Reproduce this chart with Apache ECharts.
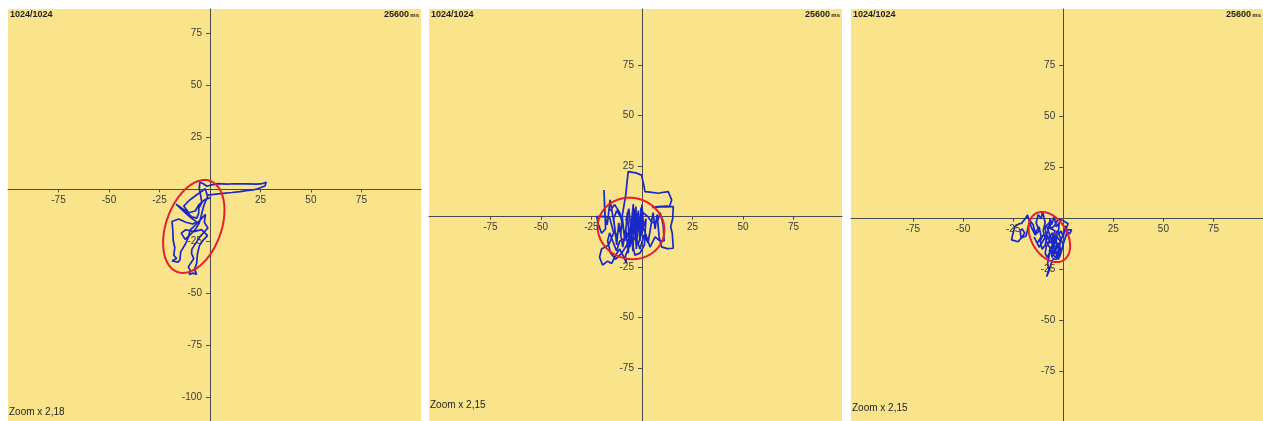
<!DOCTYPE html>
<html>
<head>
<meta charset="utf-8">
<title>Stabilogram</title>
<script src="https://cdn.jsdelivr.net/npm/echarts@6/dist/echarts.min.js"></script>
<style>
  html, body { margin: 0; padding: 0; background: #ffffff; }
  #chart { width: 1263px; height: 421px; }
</style>
</head>
<body>
<div id="chart"></div>
<script>
// ---- data -------------------------------------------------------------
// centre-of-pressure traces, [x, y] in mm
const trace1 = [
  [-1.5,-2.8],[2,-2.4],[6.6,-1.9],[11,-1.5],[14.9,-1.1],[18,-0.6],[21.4,-0.3],[24,0.4],[27.2,1.6],[27.9,3.4],
  [26,2.8],[23.1,2.5],[18,2.6],[12,2.7],[8.3,2.5],[4,2.8],[1,2.2],[-1.5,1.5],[-3.5,2.8],[-5,3.4],
  [-5.3,0.5],[-4.5,-3.6],[-4,-6.5],[-5.5,-9],[-5.6,-11.5],[-6.5,-13.8],[-9,-13.2],[-12.5,-10],[-16.8,-7.1],[-13,-10.5],
  [-9.5,-13.5],[-6.6,-15.6],[-8.5,-16.6],[-12,-15.8],[-15.5,-14.2],[-18.8,-15.4],[-18.4,-19.5],[-18.2,-24.4],[-17.4,-28],[-17.9,-31.6],
  [-16.5,-33.2],[-18.7,-34.3],[-16,-35],[-14.9,-34],[-14.5,-30],[-12,-26],[-10.5,-22.5],[-9.9,-19.6],[-7.5,-17.4],[-4.8,-14.6],
  [-2.2,-12],[-2.8,-15.8],[-1,-18.5],[-0.3,-18.8],[-2.6,-20.2],[-5,-22.8],[-7,-25.8],[-9,-28.8],[-9.1,-30.8],[-8,-33.2],
  [-10.7,-37.2],[-9.6,-39.3],[-10.3,-40.8],[-8.2,-40.2],[-6.6,-40.8],[-7.6,-38.3],[-6.6,-35.6],[-6.2,-31],[-5.2,-27],[-3.2,-24.2],
  [-1.2,-22.2],[-4.2,-19.3],[-8,-20.3],[-12,-19.4],[-14.2,-21],[-12.3,-24],[-10,-22],[-7.2,-19.2],[-5.3,-16.2],[-4.2,-12.2],
  [-3.1,-8],[-1.2,-3.4],[-2.3,0.3],[-6,-2.2],[-10,-5.1],[-13,-8],[-10.5,-11.2],[-7.3,-10.4],[-5.6,-7.5],[-2.6,-5],[0.2,-4]
];
const trace2 = [
  [-8,-2],[-6.5,4],[-5.5,-6],[-4.3,6.3],[-3.8,-8],[-3,5],[-2.5,-12],[-1.8,3],[-1.2,-10],[-0.5,4.5],
  [0.2,-7],[-2,-14],[-4,-3],[-6,-15],[-7.2,2],[-8.5,-12],[-9.8,0.5],[-10.5,-9],[-11.5,-3],[-12.5,-14],
  [-13.5,-5],[-15.8,8.3],[-16.5,2],[-17.2,-4],[-18.3,0],[-18.8,13.2],[-18.4,12.5],[-18.3,2],[-18,-6],[-20,-8.2],
  [-21.5,-4],[-22.4,0],[-19.5,0.2],[-16,-0.5],[-14,-8],[-16.5,-14],[-20,-16],[-21,-20],[-19.5,-23.9],[-17,-22],
  [-15,-23.1],[-13,-19],[-11,-16],[-9,-20],[-7.6,-23.1],[-8.2,-19.5],[-6,-14],[-3,-10],[-1,-16],[1,-9],
  [3,-13],[4.5,-4],[5.5,2],[6.5,-6],[7.5,1],[8.5,-10],[9.7,-14.9],[12.5,-15.8],[15.5,-15.6],[15.2,-11],
  [15,-8.2],[14.2,-5],[15.2,-1],[15.5,5],[12,5.2],[8,5],[5,4.6],[9,4.8],[13.5,4.8],[14.7,8.3],
  [13,12.4],[10,12],[8.1,11.6],[4,12.2],[1.5,12.4],[0.8,16],[-0.2,20.6],[-3,21.7],[-6.8,22.3],[-7.4,17],
  [-8,11],[-9,5],[-10,-1],[-12.5,3],[-14,-1],[-13,-10],[-11,-6],[-9.5,-15],[-8,-6],[-6.8,-18],
  [-5.5,-3],[-4.5,-17],[-3.6,0],[-2.8,-16],[-2,2],[-1,-12],[0,6],[0.8,-5],[2,-1],[1.2,-14],
  [-1,-18],[-3.5,-19],[-5,-12],[-7,-8],[-9,-11],[-11,-12],[-12.6,-17],[-14.5,-12],[-16,-8],[-17,-12],
  [-15.5,-18],[-13,-21],[-10,-18],[-7.5,-14],[-5.5,-8],[-4,4],[-3,-5],[-1.5,-2],[0.5,2],[3,0],
  [5,-3],[7.8,-2],[9,2],[10.5,-4],[11,-12],[9,-12],[6.5,-10],[4,-15],[2,-9],[0,-4],
  [-2.5,-7],[-5,-5],[-7,-10],[-9,-7],[-11,2],[-13.5,6],[-15.8,3]
];
const trace3 = [
  [-6,-10],[-4,-6],[-8,-4],[-5,-14],[-3,-8],[-7,-16],[-2,-12],[-6,-18],[-1,-15],[-4,-19],
  [-8,-12],[-10,-6],[-9,-2],[-10.3,3.4],[-11,0],[-12.5,2],[-13.5,-2],[-12,-6],[-14,-8],[-16,-4],
  [-17.8,1.8],[-19,0],[-20.8,-2.3],[-22,-2.5],[-24.2,-3.9],[-25,-7],[-25.8,-10.4],[-25.5,-11.2],[-22.5,-11.3],[-20.5,-9],
  [-19.2,-7],[-20.5,-5],[-21.5,-6],[-21,-9.5],[-18.5,-8.5],[-17.5,-4],[-16.5,-1],[-15,-3],[-14,-7],[-12,-4],
  [-11,-9],[-13,-12],[-14.5,-9],[-12,-14],[-9.5,-10],[-7.5,-6],[-6.5,0],[-5.8,-3],[-4.5,1],[-3.5,-4],
  [-2,-2],[-2.5,-8],[-1,-6],[0,-9],[1,-3.5],[2,-5.5],[4.2,-5.5],[3.2,-7.5],[2,-6.5],[0.5,-11],
  [-1,-16],[-2,-13],[-3,-18],[-4.5,-15],[-5.5,-19],[-6.5,-14],[-7,-18],[-7.8,-22],[-7.2,-25],[-8.3,-28.4],
  [-7.2,-26],[-6,-22],[-5,-19.5],[-3.5,-20],[-2,-17],[-1.5,-11],[-3,-9],[-4,-12],[-5,-9],[-6.5,-12],
  [-8,-8],[-9,-13],[-10.5,-15],[-11.5,-11],[-10,-8],[-7.5,-10],[-5.5,-7],[-4,-10],[-3,-14],[-4.5,-17],
  [-6,-15],[-5,-11],[-3,-6],[-1.5,-9],[0,-13],[-1.5,-18],[-2.5,-20],[-4,-16],[-5.5,-12],[-7,-11],
  [-8.5,-14],[-9,-17],[-8,-19],[-6.5,-16],[-5.2,-13],[-3.5,-11],[-2.5,-14],[-1,-10],[0.5,-7],[2.5,-2.5],
  [0,-1],[-2.5,0],[-4,-3],[-6,-5],[-7,-2],[-9,-4],[-8.5,-8]
];
// confidence ellipses: [centre x, centre y, semi-major, semi-minor, tilt in degrees]
const ellipse1 = [-8.0, -17.8, 23.3, 13.6, 69];
const ellipse2 = [-5.4, -5.8, 16.6, 15.1, -15];
const ellipse3 = [-6.9, -9.0, 13.4, 8.9, -58];

// tick labels
const xTicks = [-75, -50, -25, 25, 50, 75];
const yTicks1 = [75, 50, 25, -25, -50, -75, -100];
const yTicks23 = [75, 50, 25, -25, -50, -75];

// header / footer texts
const frameText = '1024/1024';
const durationText = '25600';
const durationUnit = 'ms';
const zoomTexts = ['Zoom x 2,18', 'Zoom x 2,15', 'Zoom x 2,15'];

// ---- layout -------------------------------------------------------------
const panels = [
  { left: 8,   width: 413, xMin: -100,  xMax: 104.5, yMin: -111.2, yMax: 86.6,  yTicks: yTicks1,  trace: trace1, ellipse: ellipse1, zoomY: 413 },
  { left: 429, width: 413, xMin: -105.4, xMax: 99.0, yMin: -101.1, yMax: 102.8, yTicks: yTicks23, trace: trace2, ellipse: ellipse2, zoomY: 406 },
  { left: 851, width: 412, xMin: -105.9, xMax: 99.7, yMin: -99.2,  yMax: 102.8, yTicks: yTicks23, trace: trace3, ellipse: ellipse3, zoomY: 409 }
];
const TOP = 9, HEIGHT = 412;
const FONT = "'Liberation Sans Narrow', 'Liberation Sans', Arial, sans-serif";
const BG = '#F9E38B';
const AXIS = '#4a4a4a';
const LABEL = '#3a3a3a';

const grids = [], xAxes = [], yAxes = [], series = [], graphics = [];

// tick labels sit next to the axis lines that cross at the origin
function tickLabelSeries(i, values, horizontal) {
  return {
    type: 'custom', xAxisIndex: i, yAxisIndex: i,
    data: values.map(v => [v]), animation: false, silent: true, z: 5,
    renderItem: function (params, api) {
      const v = api.value(0);
      const pt = horizontal ? api.coord([v, 0]) : api.coord([0, v]);
      return {
        type: 'text',
        style: horizontal
          ? { text: String(v), x: pt[0], y: pt[1] + 6, align: 'center', verticalAlign: 'top',
              font: '10px ' + FONT, fill: LABEL }
          : { text: String(v), x: pt[0] - 8, y: pt[1], align: 'right', verticalAlign: 'middle',
              font: '10px ' + FONT, fill: LABEL }
      };
    }
  };
}

panels.forEach((p, i) => {
  grids.push({ left: p.left, top: TOP, width: p.width, height: HEIGHT,
               show: true, backgroundColor: BG, borderWidth: 0,
               containLabel: false, outerBoundsMode: 'none' });
  xAxes.push({
    type: 'value', gridIndex: i, min: p.xMin, max: p.xMax,
    axisLine: { onZero: true, lineStyle: { color: AXIS, width: 1 } },
    axisTick: { show: true, length: 3, inside: false, customValues: xTicks, lineStyle: { color: AXIS } },
    axisLabel: { show: false },
    splitLine: { show: false }
  });
  yAxes.push({
    type: 'value', gridIndex: i, min: p.yMin, max: p.yMax,
    axisLine: { onZero: true, lineStyle: { color: AXIS, width: 1 } },
    axisTick: { show: true, length: 4, inside: false, customValues: p.yTicks, lineStyle: { color: AXIS } },
    axisLabel: { show: false },
    splitLine: { show: false }
  });
  series.push({
    type: 'line', xAxisIndex: i, yAxisIndex: i, data: p.trace,
    showSymbol: false, smooth: false, animation: false, silent: true,
    lineStyle: { color: '#1a28c8', width: 1.7 }, z: 3
  });
  series.push({
    type: 'custom', xAxisIndex: i, yAxisIndex: i, data: [p.ellipse],
    animation: false, silent: true, z: 4,
    renderItem: function (params, api) {
      const cx = api.value(0), cy = api.value(1), a = api.value(2), b = api.value(3);
      const t = api.value(4) * Math.PI / 180;
      const pts = [];
      for (let k = 0; k < 120; k++) {
        const u = k / 120 * Math.PI * 2;
        const ex = a * Math.cos(u), ey = b * Math.sin(u);
        pts.push(api.coord([cx + ex * Math.cos(t) - ey * Math.sin(t),
                            cy + ex * Math.sin(t) + ey * Math.cos(t)]));
      }
      return { type: 'polygon', shape: { points: pts },
               style: { fill: null, stroke: '#e3202c', lineWidth: 2 } };
    }
  });
  series.push(tickLabelSeries(i, xTicks, true));
  series.push(tickLabelSeries(i, p.yTicks, false));

  graphics.push({ type: 'text', left: p.left + 2, top: 10,
    style: { text: frameText, font: 'bold 9px ' + FONT, fill: '#1e1e1e' } });
  graphics.push({ type: 'text', right: 1263 - (p.left + p.width) + 12, top: 10,
    style: { text: durationText, font: 'bold 9px ' + FONT, fill: '#1e1e1e' } });
  graphics.push({ type: 'text', right: 1263 - (p.left + p.width) + 2, top: 12,
    style: { text: durationUnit, font: 'bold 6px ' + FONT, fill: '#1e1e1e' } });
  graphics.push({ type: 'text', left: p.left + 1, top: p.zoomY - 6,
    style: { text: zoomTexts[i], font: '10px ' + FONT, fill: '#1e1e1e' } });
});

const chart = echarts.init(document.getElementById('chart'), null, { renderer: 'canvas' });
chart.setOption({
  animation: false,
  backgroundColor: '#ffffff',
  grid: grids,
  xAxis: xAxes,
  yAxis: yAxes,
  series: series,
  graphic: graphics
});
</script>
</body>
</html>
